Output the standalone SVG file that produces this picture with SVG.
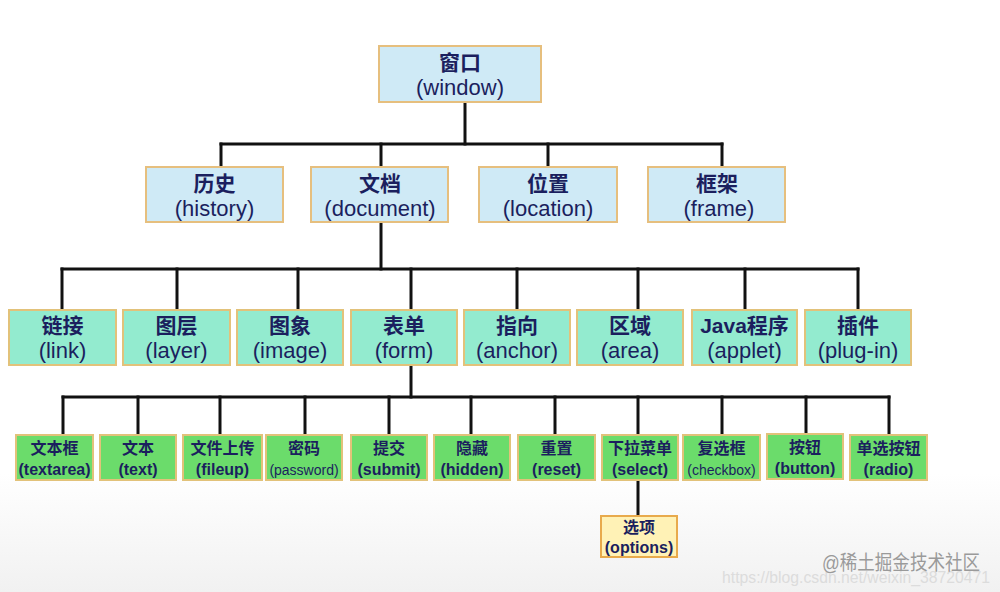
<svg xmlns="http://www.w3.org/2000/svg" width="1000" height="592" viewBox="0 0 1000 592">
<defs>
<linearGradient id="bg" x1="0" y1="0" x2="0" y2="1">
<stop offset="0" stop-color="#ffffff"/>
<stop offset="0.8" stop-color="#ffffff"/>
<stop offset="1" stop-color="#f1f1f1"/>
</linearGradient>
</defs>
<style>
.blue{fill:#cfeaf6;stroke:#e6bf7e;stroke-width:2}
.mint{fill:#93ebcf;stroke:#e2c27a;stroke-width:2}
.green{fill:#6bdc6b;stroke:#e2c27a;stroke-width:2}
.yellow{fill:#fff2b6;stroke:#e8aa4c;stroke-width:2}
.zh{font-family:"Liberation Sans","Noto Sans CJK SC",sans-serif;font-weight:bold;fill:#1b1f5e;text-anchor:middle}
.en{font-family:"Liberation Sans","Noto Sans CJK SC",sans-serif;fill:#1b1f5e;text-anchor:middle}
.l1 .zh{font-size:21px}
.l1 .en{font-size:22px}
.l4 .zh{font-size:16px}
.l4 .en{font-size:16px;font-weight:bold}
.l4 .sm{font-size:14px;font-weight:normal}
.conn line{stroke:#111;stroke-width:3;stroke-linecap:square}
</style>
<rect x="0" y="0" width="1000" height="592" fill="url(#bg)"/>

<g id="connectors" class="conn">
<line x1="465" y1="102" x2="465" y2="144"/>
<line x1="221" y1="144" x2="722" y2="144"/>
<line x1="221" y1="144" x2="221" y2="167"/>
<line x1="381" y1="144" x2="381" y2="167"/>
<line x1="548" y1="144" x2="548" y2="167"/>
<line x1="722" y1="144" x2="722" y2="167"/>
<line x1="381" y1="222" x2="381" y2="269"/>
<line x1="62" y1="269" x2="858" y2="269"/>
<line x1="62" y1="269" x2="62" y2="310"/>
<line x1="177" y1="269" x2="177" y2="310"/>
<line x1="298" y1="269" x2="298" y2="310"/>
<line x1="411" y1="269" x2="411" y2="310"/>
<line x1="517" y1="269" x2="517" y2="310"/>
<line x1="638" y1="269" x2="638" y2="310"/>
<line x1="745" y1="269" x2="745" y2="310"/>
<line x1="858" y1="269" x2="858" y2="310"/>
<line x1="411" y1="365" x2="411" y2="397"/>
<line x1="63" y1="397" x2="889" y2="397"/>
<line x1="63" y1="397" x2="63" y2="435"/>
<line x1="138" y1="397" x2="138" y2="435"/>
<line x1="220" y1="397" x2="220" y2="435"/>
<line x1="305" y1="397" x2="305" y2="435"/>
<line x1="389" y1="397" x2="389" y2="435"/>
<line x1="471" y1="397" x2="471" y2="435"/>
<line x1="555" y1="397" x2="555" y2="435"/>
<line x1="638" y1="397" x2="638" y2="435"/>
<line x1="722" y1="397" x2="722" y2="435"/>
<line x1="806" y1="397" x2="806" y2="435"/>
<line x1="889" y1="397" x2="889" y2="435"/>
<line x1="638" y1="480" x2="638" y2="516"/>
</g>

<g id="window" class="l1"><rect class="blue" x="379" y="46" width="162" height="56"/><text class="zh" x="460" y="70">窗口</text><text class="en" x="460" y="95">(window)</text></g>

<g id="history" class="l1"><rect class="blue" x="146" y="167" width="137" height="55"/><text class="zh" x="214.5" y="191">历史</text><text class="en" x="214.5" y="216">(history)</text></g>
<g id="document" class="l1"><rect class="blue" x="311" y="167" width="137" height="55"/><text class="zh" x="380" y="191">文档</text><text class="en" x="380" y="216">(document)</text></g>
<g id="location" class="l1"><rect class="blue" x="479" y="167" width="138" height="55"/><text class="zh" x="548" y="191">位置</text><text class="en" x="548" y="216">(location)</text></g>
<g id="frame" class="l1"><rect class="blue" x="648" y="167" width="137" height="55"/><text class="zh" x="717" y="191">框架</text><text class="en" x="719" y="216">(frame)</text></g>

<g id="link" class="l1"><rect class="mint" x="9" y="310" width="107" height="55"/><text class="zh" x="62.5" y="333">链接</text><text class="en" x="62.5" y="358">(link)</text></g>
<g id="layer" class="l1"><rect class="mint" x="123" y="310" width="107" height="55"/><text class="zh" x="176.5" y="333">图层</text><text class="en" x="176.5" y="358">(layer)</text></g>
<g id="image" class="l1"><rect class="mint" x="237" y="310" width="106" height="55"/><text class="zh" x="290" y="333">图象</text><text class="en" x="290" y="358">(image)</text></g>
<g id="form" class="l1"><rect class="mint" x="351" y="310" width="106" height="55"/><text class="zh" x="404" y="333">表单</text><text class="en" x="404" y="358">(form)</text></g>
<g id="anchor" class="l1"><rect class="mint" x="464" y="310" width="106" height="55"/><text class="zh" x="517" y="333">指向</text><text class="en" x="517" y="358">(anchor)</text></g>
<g id="area" class="l1"><rect class="mint" x="577" y="310" width="106" height="55"/><text class="zh" x="630" y="333">区域</text><text class="en" x="630" y="358">(area)</text></g>
<g id="applet" class="l1"><rect class="mint" x="692" y="310" width="105" height="55"/><text class="zh" x="744.5" y="333">Java程序</text><text class="en" x="744.5" y="358">(applet)</text></g>
<g id="plugin" class="l1"><rect class="mint" x="805" y="310" width="106" height="55"/><text class="zh" x="858" y="333">插件</text><text class="en" x="858" y="358">(plug-in)</text></g>

<g id="textarea" class="l4"><rect class="green" x="16" y="435" width="77" height="45"/><text class="zh" x="54.5" y="454">文本框</text><text class="en" x="54.5" y="475">(textarea)</text></g>
<g id="text" class="l4"><rect class="green" x="100" y="435" width="76" height="45"/><text class="zh" x="138" y="454">文本</text><text class="en" x="138" y="475">(text)</text></g>
<g id="fileup" class="l4"><rect class="green" x="183" y="435" width="79" height="45"/><text class="zh" x="222.5" y="454">文件上传</text><text class="en" x="222.5" y="475">(fileup)</text></g>
<g id="password" class="l4"><rect class="green" x="266" y="435" width="76" height="45"/><text class="zh" x="304" y="454">密码</text><text class="en sm" x="304" y="475">(password)</text></g>
<g id="submit" class="l4"><rect class="green" x="351" y="435" width="76" height="45"/><text class="zh" x="389" y="454">提交</text><text class="en" x="389" y="475">(submit)</text></g>
<g id="hidden" class="l4"><rect class="green" x="434" y="435" width="76" height="45"/><text class="zh" x="472" y="454">隐藏</text><text class="en" x="472" y="475">(hidden)</text></g>
<g id="reset" class="l4"><rect class="green" x="518" y="435" width="77" height="45"/><text class="zh" x="556.5" y="454">重置</text><text class="en" x="556.5" y="475">(reset)</text></g>
<g id="select" class="l4"><rect class="green" x="602" y="435" width="76" height="45"/><text class="zh" x="640" y="454">下拉菜单</text><text class="en" x="640" y="475">(select)</text></g>
<g id="checkbox" class="l4"><rect class="green" x="683" y="435" width="77" height="45"/><text class="zh" x="721.5" y="454">复选框</text><text class="en sm" x="721.5" y="475">(checkbox)</text></g>
<g id="button" class="l4"><rect class="green" x="767" y="434" width="76" height="45"/><text class="zh" x="805" y="453">按钮</text><text class="en" x="805" y="474">(button)</text></g>
<g id="radio" class="l4"><rect class="green" x="850" y="435" width="77" height="45"/><text class="zh" x="888.5" y="454">单选按钮</text><text class="en" x="888.5" y="475">(radio)</text></g>

<g id="options" class="l4"><rect class="yellow" x="601" y="516" width="76" height="41"/><text class="zh" x="639" y="533">选项</text><text class="en" x="639" y="553">(options)</text></g>

<text x="722" y="583" font-family="Liberation Sans, sans-serif" font-size="17" fill="#dcdcdc" textLength="268" lengthAdjust="spacingAndGlyphs">https://blog.csdn.net/weixin_38720471</text>
<text x="822" y="570" font-family="Liberation Sans, 'Noto Sans CJK SC', sans-serif" font-size="20" fill="#9a9a9a" textLength="158" lengthAdjust="spacingAndGlyphs">@稀土掘金技术社区</text>
</svg>
